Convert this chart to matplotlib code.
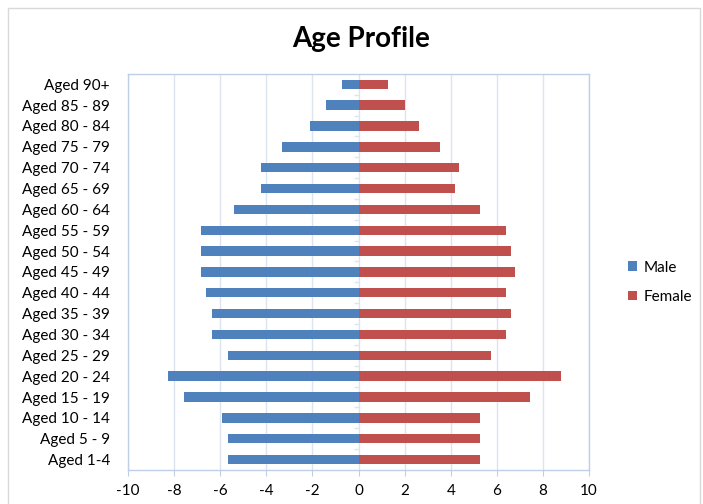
import matplotlib
matplotlib.use("Agg")
import matplotlib.pyplot as plt
from matplotlib.patches import Rectangle

# age groups, listed bottom to top as in the chart
age_groups = ["Aged 1-4", "Aged 5 - 9", "Aged 10 - 14", "Aged 15 - 19", "Aged 20 - 24",
              "Aged 25 - 29", "Aged 30 - 34", "Aged 35 - 39", "Aged 40 - 44", "Aged 45 - 49",
              "Aged 50 - 54", "Aged 55 - 59", "Aged 60 - 64", "Aged 65 - 69", "Aged 70 - 74",
              "Aged 75 - 79", "Aged 80 - 84", "Aged 85 - 89", "Aged 90+"]

# male shares are plotted on the negative side
male = [-5.65, -5.65, -5.9, -7.57, -8.26, -5.65, -6.36, -6.36, -6.6, -6.85,
        -6.85, -6.85, -5.4, -4.25, -4.25, -3.3, -2.1, -1.4, -0.7]
female = [5.26, 5.26, 5.26, 7.43, 8.8, 5.73, 6.38, 6.62, 6.38, 6.78,
          6.62, 6.38, 5.26, 4.19, 4.36, 3.54, 2.64, 2.0, 1.28]

x_ticks = [-10, -8, -6, -4, -2, 0, 2, 4, 6, 8, 10]

frame_color = "#BFCFE6"
grid_color = "#DCE4F0"

plt.rcParams['font.family'] = ['Lato', 'DejaVu Sans']

fig = plt.figure(figsize=(7.03, 5.04), dpi=100)
ax = fig.add_axes([0.182, 0.0675, 0.656, 0.786])

pos = list(range(len(age_groups)))
ax.barh(pos, male, height=0.45, color="#4F81BD", label="Male", zorder=3)
ax.barh(pos, female, height=0.45, color="#C0504D", label="Female", zorder=3)

# small tick marks on the vertical axis that crosses at zero
ax.hlines([p + 0.5 for p in pos[:-1]], -0.18, 0, color=grid_color, lw=1, zorder=2)

ax.set_xlim(-10, 10)
ax.set_ylim(-0.5, len(age_groups) - 0.5)
ax.set_xticks(x_ticks)
ax.set_xticklabels([str(t) for t in x_ticks], fontsize=11)
ax.set_yticks(pos)
ax.set_yticklabels(age_groups, fontsize=11)
ax.tick_params(axis="y", length=0, pad=13)
ax.tick_params(axis="x", length=4, color=frame_color, pad=6)
ax.xaxis.grid(True, color=grid_color, lw=1, zorder=0)
ax.set_axisbelow(True)
for s in ax.spines.values():
    s.set_color(frame_color)
    s.set_linewidth(1)

fig.text(0.514, 0.922, "Age Profile", ha="center", va="center",
         fontsize=20, fontweight="bold")

fig.legend(loc="center left", bbox_to_anchor=(0.874, 0.44), frameon=False,
           fontsize=11, handlelength=0.6, handleheight=0.6, handletextpad=0.4,
           labelspacing=1.0)

# faint border around the chart area
fig.patches.append(Rectangle((0.011, -0.01), 0.985, 0.995, transform=fig.transFigure,
                             fill=False, edgecolor="#D9D9D9", lw=1))

fig.savefig("out.png", dpi=100)
